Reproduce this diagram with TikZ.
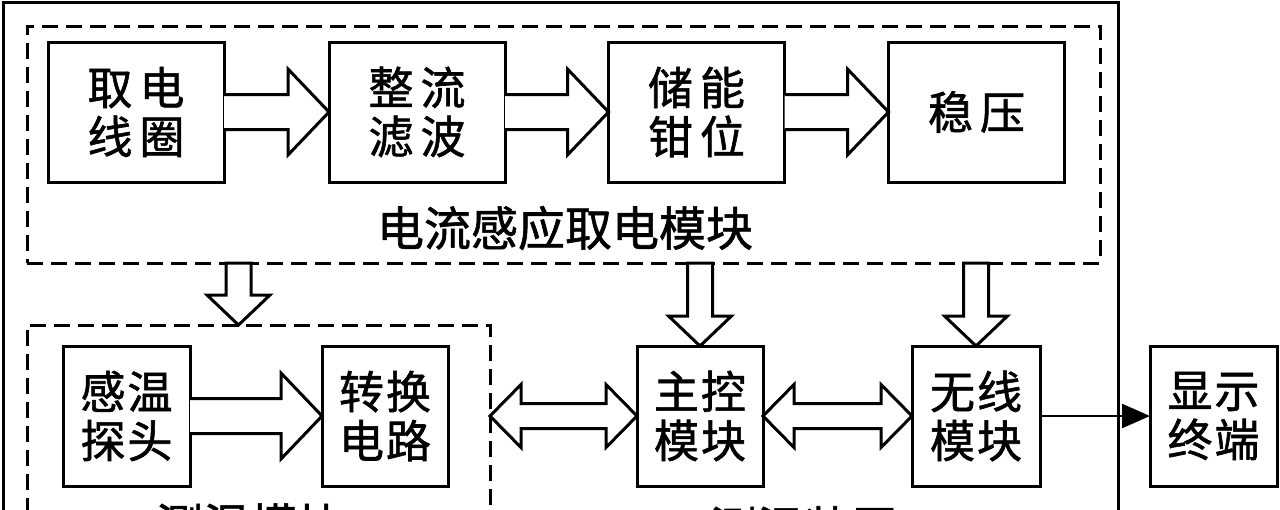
\documentclass[tikz,border=0pt]{standalone}
\usepackage{fontspec}
\newfontfamily\cjk[AutoFakeBold=1.3]{Noto Sans CJK SC}
\usetikzlibrary{calc,arrows.meta}
\newcommand\harr[5]{\draw[hol] let \p1=(#1), \p2=(#2) in (\x1,\y1+#3) -- (\x2-#5,\y1+#3) -- (\x2-#5,\y1+#4) -- (\x2,\y1) -- (\x2-#5,\y1-#4) -- (\x2-#5,\y1-#3) -- (\x1,\y1-#3);}
\newcommand\darr[5]{\draw[hol] let \p1=(#1), \p2=(#2) in (\x1,\y1) -- (\x1+#5,\y1+#4) -- (\x1+#5,\y1+#3) -- (\x2-#5,\y1+#3) -- (\x2-#5,\y1+#4) -- (\x2,\y1) -- (\x2-#5,\y1-#4) -- (\x2-#5,\y1-#3) -- (\x1+#5,\y1-#3) -- (\x1+#5,\y1-#4) -- cycle;}
\newcommand\varr[5]{\draw[hol] let \p1=(#1), \p2=(#2) in (\x1-#3,\y1) -- (\x1-#3,\y2+#5) -- (\x1-#4,\y2+#5) -- (\x1,\y2) -- (\x1+#4,\y2+#5) -- (\x1+#3,\y2+#5) -- (\x1+#3,\y1) -- cycle;}
\begin{document}
\begin{tikzpicture}[x=1pt,y=-1pt,line width=3pt,
  box/.style={draw,outer sep=0pt,inner sep=0pt,minimum height=140pt,font=\cjk\bfseries\fontsize{45}{49}\selectfont,align=center},
  dbox/.style={draw,dash pattern=on 16pt off 8pt,outer sep=0pt,inner sep=0pt},
  lbl/.style={font=\cjk\bfseries\fontsize{47}{50}\selectfont,inner sep=0pt},
  hol/.style={draw,line width=3pt,line join=miter,fill=white}]
\useasboundingbox (0,0) rectangle (1280,509);
\clip (0,0) rectangle (1280,509);
\node[draw,outer sep=0pt,minimum width=1115pt,minimum height=578pt] (outer) at (560.5,291) {};
\node[dbox,minimum width=1073pt,minimum height=237pt] (pwr) at (563.5,144.5) {};
\node[dbox,minimum width=463pt,minimum height=245pt] (tmp) at (258.5,447.5) {};
% top row
\node[box,minimum width=176pt] (b1) at (136,112) {取\hspace{7pt}电\\线\hspace{7pt}圈};
\node[box,minimum width=176pt] (b2) at (417,112) {整\hspace{7pt}流\\滤\hspace{7pt}波};
\node[box,minimum width=176pt] (b3) at (696.5,112) {储\hspace{7pt}能\\钳\hspace{7pt}位};
\node[box,minimum width=176pt] (b4) at (976.5,112) {稳\hspace{7pt}压};
\node[lbl] (pwrlbl) at (565,228) {电流感应取电模块};
% bottom row
\node[box,minimum width=127pt] (t1) at (126.5,416) {感\hspace{2pt}温\\探\hspace{2pt}头};
\node[box,minimum width=126pt] (t2) at (385,416) {转\hspace{2pt}换\\电\hspace{2pt}路};
\node[box,minimum width=126pt] (mc) at (700,416) {主\hspace{2pt}控\\模\hspace{2pt}块};
\node[box,minimum width=128pt] (wl) at (976,416) {无\hspace{2pt}线\\模\hspace{2pt}块};
\node[box,minimum width=127pt] (disp) at (1213.5,416) {显\hspace{2pt}示\\终\hspace{2pt}端};
\node[lbl] (tmplbl) at (250,525) {测温模块};
\node[lbl] (devlbl) at (804,528) {测温装置};
% arrows
\harr{b1.east}{b2.west}{17.5pt}{43pt}{41pt}
\harr{b2.east}{b3.west}{17.5pt}{43pt}{41pt}
\harr{b3.east}{b4.west}{17.5pt}{43pt}{41pt}
\harr{t1.east}{t2.west}{17.5pt}{43pt}{41pt}
\darr{tmp.east |- mc.west}{mc.west}{12.5pt}{31.5pt}{31pt}
\darr{mc.east}{wl.west}{12.5pt}{31.5pt}{31pt}
\coordinate (c1) at (238.5,0);
\varr{c1 |- pwr.south}{c1 |- tmp.north}{12.5pt}{31.5pt}{30pt}
\varr{mc.north |- pwr.south}{mc.north}{12.5pt}{31.5pt}{30pt}
\varr{wl.north |- pwr.south}{wl.north}{12.5pt}{31.5pt}{30pt}
\draw[line width=2.5pt,-{Triangle[length=28pt,width=24pt]}] (wl.east) -- (disp.west);
\end{tikzpicture}
\end{document}
